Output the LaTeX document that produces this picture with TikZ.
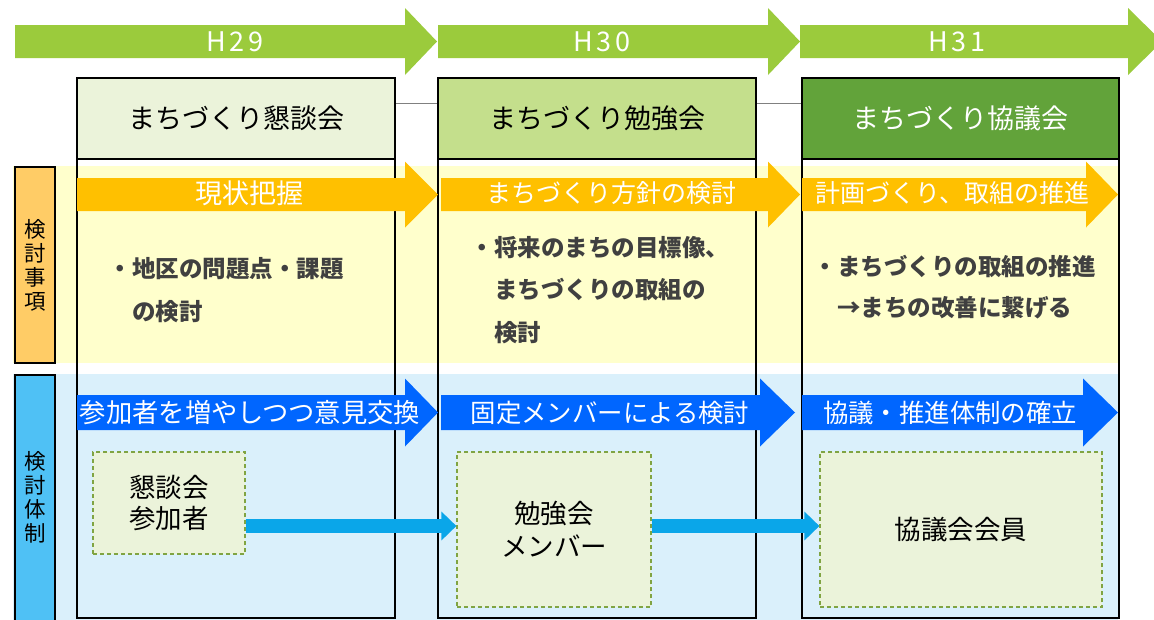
\documentclass[tikz,border=0pt]{standalone}
\usepackage{fontspec}
\setmainfont{Noto Sans CJK JP}
\usetikzlibrary{arrows.meta}
\definecolor{grArrow}{HTML}{9BCB3C}
\definecolor{hdA}{HTML}{EBF3DA}
\definecolor{hdB}{HTML}{C4DF8C}
\definecolor{hdC}{HTML}{62A33A}
\definecolor{yelBand}{HTML}{FFFFCC}
\definecolor{orArrow}{HTML}{FFC000}
\definecolor{orLab}{HTML}{FFCC66}
\definecolor{blBand}{HTML}{DAF0FB}
\definecolor{blLab}{HTML}{4FC1F5}
\definecolor{blArrow}{HTML}{0066FF}
\definecolor{connCol}{HTML}{0AA6E9}
\definecolor{boxFill}{HTML}{EBF3DA}
\definecolor{boxLine}{HTML}{80A442}
\definecolor{txtGray}{HTML}{404040}
\newcommand{\harrow}[7]{\fill[#1] (#2,#5-#6) -- (#3,#5-#6) -- (#3,#5-#7) -- (#4,#5) -- (#3,#5+#7) -- (#3,#5+#6) -- (#2,#5+#6) -- cycle;}
\newcommand{\fsz}[2]{\fontsize{#1}{#2}\selectfont}
\tikzset{
  x=1pt, y=-1pt,
  yeartxt/.style={text=white, inner sep=0pt, font=\fsz{27}{30}\addfontfeatures{LetterSpace=14}},
  hdr/.style={draw=black, line width=2pt, inner sep=0pt, font=\fsz{27}{30}},
  frame/.style={draw=black, line width=2pt},
  lab/.style={draw=black, line width=2pt, inner sep=0pt, align=center, minimum width=40pt, font=\fsz{21.5}{24}},
  arrtxt/.style={text=white, inner sep=0pt, font=\fsz{25}{30}},
  bullettxt/.style={text=txtGray, inner sep=0pt, align=left, anchor=west, font=\bfseries\fsz{23.5}{43}},
  dbox/.style={draw=boxLine, fill=boxFill, line width=1.2pt, dash pattern=on 4pt off 3pt, inner sep=0pt, align=center, font=\fsz{26.5}{32}},
  conn/.style={draw=connCol, line width=14pt, -{Triangle[width=28pt,length=15pt]}},
  gline/.style={draw=gray, line width=1pt}
}
\begin{document}
\begin{tikzpicture}
\clip (0,0) rectangle (1154,619);
\fill[white] (0,0) rectangle (1154,619);
% bands
\fill[yelBand] (13,166) rectangle (1118,363);
\fill[blBand] (13,374) rectangle (1118,625);
% top green arrows
\harrow{grArrow}{15}{405}{437}{41.5}{16.5}{33.5}
\harrow{grArrow}{438}{768}{800}{41.5}{16.5}{33.5}
\harrow{grArrow}{800}{1128}{1162}{41.5}{16.5}{33.5}
\node[yeartxt] (y1) at (235,42) {H29};
\node[yeartxt] (y2) at (602,42) {H30};
\node[yeartxt] (y3) at (957,42) {H31};
% column frames
\draw[frame] (77,78) rectangle (395,618);
\draw[frame] (438,78) rectangle (756,618);
\draw[frame] (802,78) rectangle (1119,618);
% headers
\node[hdr, fill=hdA, minimum width=318pt, minimum height=81pt] (hd1) at (236,118.5) {まちづくり懇談会};
\node[hdr, fill=hdB, minimum width=318pt, minimum height=81pt] (hd2) at (597,118.5) {まちづくり勉強会};
\node[hdr, fill=hdC, text=white, minimum width=317pt, minimum height=81pt] (hd3) at (960.5,118.5) {まちづくり協議会};
\coordinate (gl) at (0,103);
\draw[gline] (hd1.east |- gl) -- (hd2.west |- gl);
\draw[gline] (hd2.east |- gl) -- (hd3.west |- gl);
% side labels
\node[lab, fill=orLab, minimum height=196pt] (lbA) at (35,265) {検\\討\\事\\項};
\node[lab, fill=blLab, minimum height=252pt] (lbB) at (35,501) {};
\node[inner sep=0pt, align=center, font=\fsz{21.5}{24}] (lbBt) at (35,497) {検\\討\\体\\制};
% orange arrows
\harrow{orArrow}{77}{405}{438}{194.5}{16.5}{33}
\harrow{orArrow}{441}{768}{800}{194.5}{16.5}{33}
\harrow{orArrow}{802}{1086}{1118}{194.5}{16.5}{33}
\node[arrtxt, font=\fsz{27}{30}] (o1) at (249,193) {現状把握};
\node[arrtxt] (o2) at (611,193) {まちづくり方針の検討};
\node[arrtxt] (o3) at (952,193) {計画づくり、取組の推進};
% bullet texts
\node[bullettxt] (t1) at (108.5,290) {・地区の問題点・課題\\\phantom{・}の検討};
\node[bullettxt, font=\bfseries\fsz{23.5}{42.5}] (t2) at (470.5,290) {・将来のまちの目標像、\\\phantom{・}まちづくりの取組の\\\phantom{・}検討};
\node[bullettxt, font=\bfseries\fsz{23.5}{41}] (t3) at (813.5,287.5) {・まちづくりの取組の推進\\\phantom{・}→まちの改善に繋げる};
% blue arrows
\harrow{blArrow}{77}{405}{438}{412.5}{17.5}{34}
\harrow{blArrow}{441}{760}{795}{412.5}{17.5}{34}
\harrow{blArrow}{802}{1083}{1118}{412.5}{17.5}{34}
\node[arrtxt, font=\fsz{26.3}{30}] (u1) at (250,413) {参加者を増やしつつ意見交換};
\node[arrtxt, font=\fsz{25.4}{30}] (u2) at (610,413) {固定メンバーによる検討};
\node[arrtxt, font=\fsz{25.4}{30}] (u3) at (950,413) {協議・推進体制の確立};
% dashed boxes
\node[dbox, minimum width=152pt, minimum height=102pt] (b1) at (169,503) {懇談会\\参加者};
\node[dbox, minimum width=194pt, minimum height=155pt, font=\fsz{26.5}{33}] (b2) at (554,529.5) {勉強会\\メンバー};
\node[dbox, minimum width=282pt, minimum height=155pt] (b3) at (961,529.5) {協議会会員};
% connectors
\coordinate (cy) at (0,526);
\draw[conn] (b1.east |- cy) -- (b2.west |- cy);
\draw[conn] (b2.east |- cy) -- (b3.west |- cy);
\end{tikzpicture}
\end{document}
